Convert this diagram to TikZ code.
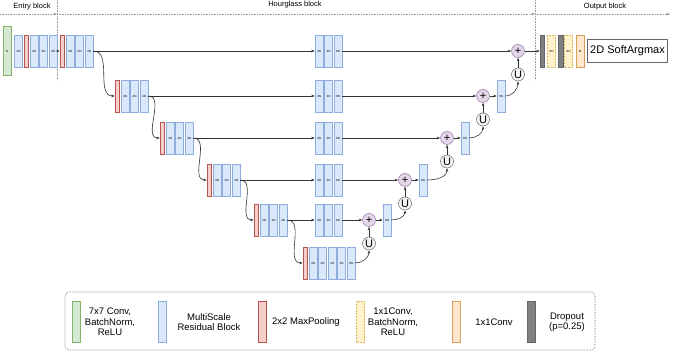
\documentclass[tikz,border=0pt]{standalone}
\usepackage{fontspec}
\setmainfont{Liberation Sans}
\usetikzlibrary{positioning,arrows.meta}
\definecolor{msrfill}{HTML}{DAE8FC}\definecolor{msrdraw}{HTML}{8EACDC}
\definecolor{poolfill}{HTML}{F8CECC}\definecolor{pooldraw}{HTML}{B85450}
\definecolor{convfill}{HTML}{D5E8D4}\definecolor{convdraw}{HTML}{82B366}
\definecolor{cbrfill}{HTML}{FFF2CC}\definecolor{cbrdraw}{HTML}{D6B656}
\definecolor{onefill}{HTML}{FFE6CC}\definecolor{onedraw}{HTML}{D7A05A}
\definecolor{dropfill}{HTML}{808080}\definecolor{dropdraw}{HTML}{666666}
\definecolor{addfill}{HTML}{E1D5E7}\definecolor{adddraw}{HTML}{9673A6}
\definecolor{upfill}{HTML}{F5F5F5}\definecolor{updraw}{HTML}{666666}
\definecolor{linkc}{HTML}{333333}\definecolor{sepc}{HTML}{999999}

\begin{document}
\begin{tikzpicture}[x=1pt,y=1pt,>={Stealth[length=3.5pt,width=2.6pt]},
  node distance=1pt,
  every node/.style={inner sep=0pt},
  blk/.style={draw,line width=0.5pt,minimum width=8pt,minimum height=32pt,
    font=\fontsize{3}{3}\selectfont},
  msrb/.style={blk,draw=msrdraw,fill=msrfill},
  pool/.style={blk,minimum width=4.5pt,draw=pooldraw,fill=poolfill},
  conv/.style={blk,draw=convdraw,fill=convfill},
  cbr/.style={blk,densely dotted,draw=cbrdraw,fill=cbrfill},
  conv1/.style={blk,draw=onedraw,fill=onefill},
  drop/.style={blk,minimum width=4.5pt,draw=dropdraw,fill=dropfill},
  addop/.style={circle,draw=adddraw,fill=addfill,line width=0.5pt,
    minimum size=13pt,font=\fontsize{11}{11}\selectfont},
  upop/.style={circle,draw=updraw,fill=upfill,line width=0.5pt,
    minimum size=13pt,font=\fontsize{11}{11}\selectfont},
  link/.style={->,draw=linkc,line width=0.6pt},
  sep/.style={draw=sepc,densely dotted,line width=0.6pt},
  keybar/.style={blk,minimum height=41pt},
  keytext/.style={align=center,font=\fontsize{9.5}{10.5}\selectfont}]
  \useasboundingbox (0,0) rectangle (673,-352);

  % block separators
  \coordinate (t0) at (0,-14);
  \coordinate (t1) at (57,-14);
  \coordinate (t2) at (535,-14);
  \coordinate (t3) at (670,-14);
  \draw[sep] (57,0) -- (57,-80);
  \draw[sep] (535,0) -- (535,-80);
  \draw[sep,->] (t0) -- (t1);
  \draw[sep,->] (t1) -- (t2);
  \draw[sep,->] (t2) -- (t3);
  \node[font=\fontsize{7.5}{7.5}\selectfont] (hentry) at (32,-7) {Entry block};
  \node[font=\fontsize{7.5}{7.5}\selectfont] (hglass) at (295,-5) {Hourglass block};
  \node[font=\fontsize{7.5}{7.5}\selectfont] (hout) at (605,-7) {Output block};

  % entry block
  \node[conv,minimum height=49pt] (e0) at (7,-51) {N};
  \node[msrb,right=3pt of e0] (e1) {2N};
  \node[pool,right=of e1] (e2) {};
  \node[msrb,right=of e2] (e3) {2N};
  \node[msrb,right=of e3] (e4) {2N};
  \node[msrb,right=of e4] (e5) {4N};

  % hourglass rows
  \foreach \r/\y/\x in {1/51/60,2/96/115,3/138/160,4/180/207,5/220/254}{
    \node[pool] (p\r) at (\x+2.25,-\y) {};
    \node[msrb,right=of p\r] (a\r) {4N};
    \node[msrb,right=of a\r] (b\r) {4N};
    \node[msrb,right=of b\r] (c\r) {4N};
    \node[msrb] (m\r) at (319,-\y) {4N};
    \node[msrb,right=of m\r] (n\r) {4N};
    \node[msrb,right=of n\r] (o\r) {8N};
  }
  \node[pool] (p6) at (305.25,-263) {};
  \node[msrb,right=of p6] (a6) {4N};
  \node[msrb,right=of a6] (b6) {4N};
  \node[msrb,right=of b6] (c6) {4N};
  \node[msrb,right=of c6] (d6) {4N};
  \node[msrb,right=of d6] (f6) {8N};

  % merge and upsampling
  \foreach \r/\y/\x in {1/51/518,2/96/483,3/138/447,4/180/405,5/220/369}{
    \node[addop] (s\r) at (\x,-\y) {+};
    \node[upop,below=10pt of s\r] (u\r) {U};
  }
  \foreach \r in {2,...,5}
    \node[msrb,right=7pt of s\r] (r\r) {8N};

  % output block
  \node[drop] (d1) at (542.25,-51) {};
  \node[cbr,right=2.5pt of d1] (g1) {8N};
  \node[drop,right=2.5pt of g1] (d2) {};
  \node[cbr,right=of d2] (g2) {8N};
  \node[conv1,right=3pt of g2] (w1) {M};
  \node[draw=dropdraw,line width=0.5pt,minimum width=80pt,minimum height=23pt,
    font=\fontsize{11}{11}\selectfont,right=3pt of w1] (sm) {2D SoftArgmax};

  % connectors
  \draw[link] (e5) -- (p1);
  \foreach \r in {1,...,5}{
    \draw[link] (c\r) -- (m\r);
    \draw[link] (o\r) -- (s\r);
    \draw[link] (u\r) -- (s\r);
  }
  \foreach \r/\q in {1/2,2/3,3/4,4/5,5/6}
    \draw[link] (c\r.east) to[out=0,in=180] (p\q.west);
  \draw[link] (f6.east) to[out=0,in=-90] (u5.south);
  \foreach \r/\q in {5/4,4/3,3/2,2/1}{
    \draw[link] (s\r) -- (r\r);
    \draw[link] (r\r.east) to[out=0,in=-90] (u\q.south);
  }
  \draw[link] (s1) -- (d1);

  % legend
  \node[draw=dropdraw,densely dotted,line width=0.6pt,rounded corners=4pt,
    minimum width=530pt,minimum height=58pt] (key) at (330,-321) {};
  \node[keybar,draw=convdraw,fill=convfill] (k1) at (76,-321.5) {};
  \node[keytext] (l1) at (110,-322) {7x7 Conv,\\BatchNorm,\\ReLU};
  \node[keybar,draw=msrdraw,fill=msrfill] (k2) at (162.5,-321.5) {};
  \node[keytext] (l2) at (209,-322) {MultiScale\\Residual Block};
  \node[keybar,draw=pooldraw,fill=poolfill] (k3) at (262,-321.5) {};
  \node[keytext] (l3) at (306,-322) {2x2 MaxPooling};
  \node[keybar,densely dotted,draw=cbrdraw,fill=cbrfill] (k4) at (360.5,-321.5) {};
  \node[keytext] (l4) at (393,-322) {1x1Conv,\\BatchNorm,\\ReLU};
  \node[keybar,draw=onedraw,fill=onefill] (k5) at (456.5,-321.5) {};
  \node[keytext] (l5) at (494,-322) {1x1Conv};
  \node[keybar,draw=dropdraw,fill=dropfill] (k6) at (531,-321.5) {};
  \node[keytext] (l6) at (567,-322) {Dropout\\(p=0.25)};
\end{tikzpicture}
\end{document}
